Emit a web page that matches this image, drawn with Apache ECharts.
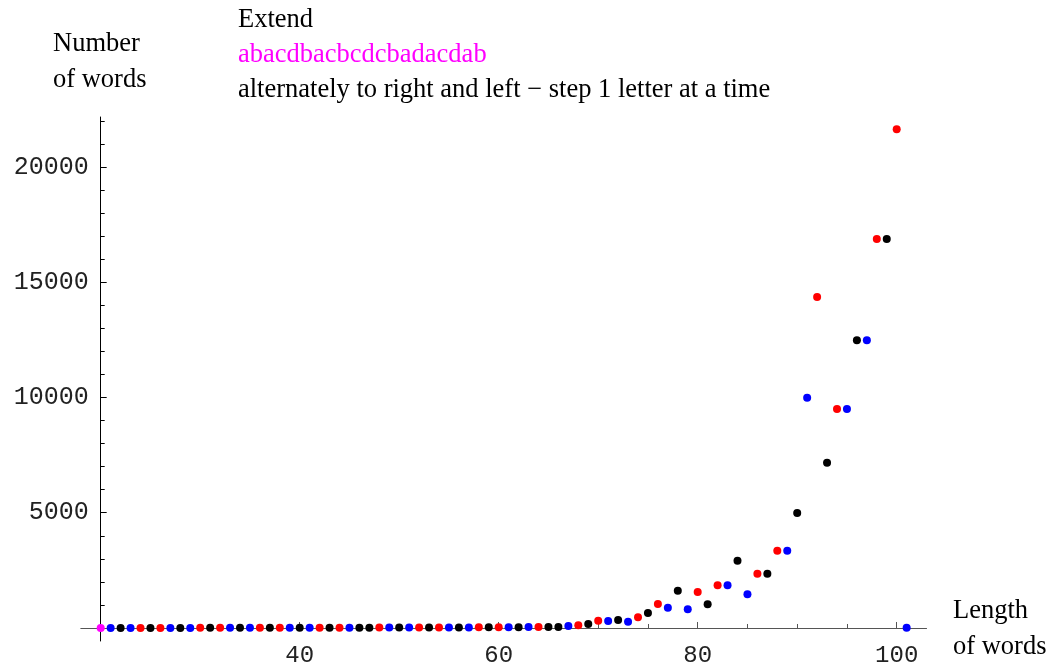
<!DOCTYPE html>
<html><head><meta charset="utf-8">
<script src="https://cdn.jsdelivr.net/npm/echarts@6/dist/echarts.min.js"></script>
<style>html,body{margin:0;padding:0;background:#fff}#c{width:1057px;height:668px}</style>
</head><body><div id="c"></div>
<script>
// word length (x)
const lengths = [20,21,22,23,24,25,26,27,28,29,30,31,32,33,34,35,36,37,38,39,40,
  41,42,43,44,45,46,47,48,49,50,51,52,53,54,55,56,57,58,59,60,
  61,62,63,64,65,66,67,68,69,70,71,72,73,74,75,76,77,78,79,80,
  81,82,83,84,85,86,87,88,89,90,91,92,93,94,95,96,97,98,99,100,101];
// number of words (y)
const counts = [1,2,2,2,3,3,4,4,4,5,6,6,7,7,8,8,9,10,10,11,12,
  12,13,14,14,15,16,16,17,18,19,20,21,22,23,24,26,27,28,30,32,
  34,36,38,41,44,48,87,117,174,317,304,347,275,463,651,1041,882,1620,810,1562,
  1027,1851,1851,2921,1461,2357,2357,3355,3355,4989,9993,14360,7173,9501,9501,12480,12480,16876,16876,21634,10];
// colour class of each point: m=magenta (start word), b=blue, k=black, r=red
const kinds = ['m','b','k','b','r','k','r','b','k','b','r','k','r','b','k','b','r','k','r','b','k',
  'b','r','k','r','b','k','k','r','b','k','b','r','k','r','b','k','b','r','k','r',
  'b','k','b','r','k','k','b','r','k','r','b','k','b','r','k','r','b','k','b','r',
  'k','r','b','k','b','r','k','r','b','k','b','r','k','r','b','k','b','r','k','r','b'];
const kindColors = {m:'#ff00ff', b:'#0000ff', k:'#000000', r:'#ff0000'};
const kindOrder = ['b','k','r','m'];
const xMajorTicks = [40,60,80,100];
const xMinorTicks = [25,30,35,45,50,55,65,70,75,85,90,95];
const yMajorTicks = [5000,10000,15000,20000];
const yMinorTicks = [1000,2000,3000,4000,6000,7000,8000,9000,11000,12000,13000,14000,16000,17000,18000,19000,21000,22000];

const X_MIN = 18, X_MAX = 103, Y_MIN = -564, Y_MAX = 22169;
const axisFont = 'Liberation Mono';
const serif = 'Liberation Serif';

const series = kindOrder.map(k => ({
  type: 'scatter',
  xAxisIndex: 0, yAxisIndex: 0,
  symbolSize: 8,
  itemStyle: {color: kindColors[k], opacity: 1},
  data: lengths.map((x, i) => kinds[i] === k ? [x, counts[i]] : null).filter(d => d),
  z: k === 'm' ? 4 : 3,
  silent: true
}));

const tStyle = (c) => ({fontFamily: serif, fontSize: 26.5, fontWeight: 'normal', color: c || '#000'});
const plain = v => String(v);
const chart = echarts.init(document.getElementById('c'), null, {renderer: 'canvas'});
chart.setOption({
  animation: false,
  backgroundColor: '#fff',
  title: [
    {text: 'Number', left: 53, top: 31, padding: 0, textStyle: tStyle()},
    {text: 'of words', left: 53, top: 67, padding: 0, textStyle: tStyle()},
    {text: 'Extend', left: 238, top: 7, padding: 0, textStyle: tStyle()},
    {text: 'abacdbacbcdcbadacdab', left: 238, top: 42, padding: 0, textStyle: tStyle('#ff00ff')},
    {text: 'alternately to right and left \u2212 step 1 letter at a time', left: 238, top: 77, padding: 0, textStyle: tStyle()},
    {text: 'Length', left: 953, top: 598, padding: 0, textStyle: tStyle()},
    {text: 'of words', left: 953, top: 634, padding: 0, textStyle: tStyle()}
  ],
  grid: {left: 80.8, right: 130.45, top: 117, bottom: 27, containLabel: false, outerBoundsMode: 'none'},
  xAxis: [
    {type: 'value', min: X_MIN, max: X_MAX, position: 'bottom',
     axisLine: {show: true, onZero: true, lineStyle: {color: '#555', width: 1}},
     axisTick: {show: true, inside: true, length: 6, customValues: xMajorTicks, lineStyle: {color: '#555', width: 1}},
     axisLabel: {show: true, customValues: xMajorTicks, formatter: plain, fontFamily: axisFont, fontSize: 24, color: '#222', margin: 3},
     splitLine: {show: false}, minorTick: {show: false}},
    {type: 'value', min: X_MIN, max: X_MAX, position: 'bottom',
     axisLine: {show: false, onZero: true},
     axisTick: {show: true, inside: true, length: 4, customValues: xMinorTicks, lineStyle: {color: '#555', width: 1}},
     axisLabel: {show: false},
     splitLine: {show: false}}
  ],
  yAxis: [
    {type: 'value', min: Y_MIN, max: Y_MAX, position: 'left', offset: -19.9,
     axisLine: {show: true, onZero: false, lineStyle: {color: '#000', width: 1}},
     axisTick: {show: true, inside: true, length: 6, customValues: yMajorTicks, lineStyle: {color: '#000', width: 1}},
     axisLabel: {show: true, customValues: yMajorTicks, formatter: plain, fontFamily: axisFont, fontSize: 25, color: '#222', margin: 12},
     splitLine: {show: false}},
    {type: 'value', min: Y_MIN, max: Y_MAX, position: 'left', offset: -19.9,
     axisLine: {show: false, onZero: false},
     axisTick: {show: true, inside: true, length: 4, customValues: yMinorTicks, lineStyle: {color: '#000', width: 1}},
     axisLabel: {show: false},
     splitLine: {show: false}}
  ],
  series: series
});
</script>
</body></html>
